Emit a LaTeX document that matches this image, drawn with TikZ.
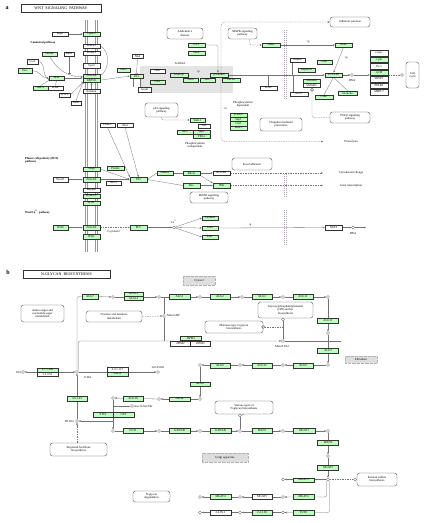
\documentclass[tikz,border=0pt]{standalone}
\usepackage{fontspec}
\setmainfont{Liberation Serif}
\usetikzlibrary{arrows.meta}
\definecolor{kg}{RGB}{191,255,191}
\definecolor{dcfill}{RGB}{228,228,228}
\definecolor{nuc}{RGB}{185,160,185}
\pgfdeclarelayer{bg}
\pgfsetlayers{bg,main}
\tikzset{
 bx/.style={draw=black!80, line width=0.3pt, inner sep=0pt, minimum height=4.3pt, minimum width=17pt, font=\fontsize{3}{3}\selectfont},
 gb/.style={bx, fill=kg},
 wb/.style={bx, fill=white},
 pw/.style={draw=black!70, line width=0.35pt, rounded corners=2.5pt, fill=white, align=center, inner sep=0.5pt, font=\fontsize{3}{3.3}\selectfont},
 cir/.style={circle, draw=black!80, line width=0.3pt, fill=white, minimum size=3pt, inner sep=0pt},
 txt/.style={inner sep=0pt, align=center, font=\fontsize{3}{3.3}\selectfont},
 hd/.style={inner sep=0pt, align=left, font=\bfseries\fontsize{3}{3.4}\selectfont},
 ln/.style={draw=black!55, line width=0.3pt},
 arr/.style={ln, -{Latex[length=2pt,width=1.8pt]}},
 tb/.style={ln, -{Bar[width=3pt]}},
 dsh/.style={ln, dash pattern=on 1.5pt off 1pt},
 mem/.style={draw=black!40, line width=0.6pt},
 nucl/.style={draw=nuc, line width=0.4pt, dash pattern=on 1pt off 1pt},
 loc/.style={fill=black!13, draw=black!30, densely dotted, line width=0.3pt, inner sep=0pt, font=\fontsize{3}{3}\selectfont},
 ttl/.style={draw=black!80, line width=0.4pt, minimum height=8pt, inner sep=0pt, font=\fontsize{4}{4}\selectfont},
 pl/.style={inner sep=0pt, font=\bfseries\fontsize{6}{6}\selectfont}
}
\begin{document}
\begin{tikzpicture}[x=1pt,y=-1pt]
\useasboundingbox (0,0) rectangle (424,523);
\begin{pgfonlayer}{bg}
\fill[white] (0,0) rectangle (424,523);
\fill[dcfill] (140,66) rectangle (233,93);
\end{pgfonlayer}

% ================= PANEL A =================
\node[pl] (la) at (7,8) {a};
\node[ttl, minimum width=80pt] (ta) at (61,8) {WNT\ \ SIGNALING\ \ PATHWAY};

\foreach \x in {85,87,95,97} \draw[mem] (\x,20) -- (\x,252);

% canonical, extracellular
\node[hd] (cant) at (43,43) {Canonical pathway};
\node[wb, minimum width=16pt] (rspo) at (60,34) {Rspo};
\node[gb] (lgr) at (91.5,34) {Lgr4/5};
\node[wb] (rnf) at (91.5,46) {RNF43};
\node[wb] (znrf) at (91.5,53) {ZNRF3};
\node[gb, minimum width=15pt] (norrin) at (49.5,54) {Norrin};
\node[wb, minimum width=10pt] (dkka) at (69,54) {DKK};
\node[wb, minimum width=11pt] (cer) at (32.5,61.5) {Cer1};
\node[gb, minimum width=14pt] (porc) at (25,70.5) {Porc};
\node[gb, minimum width=15pt] (wnt) at (56.5,78) {Wnt};
\node[gb, minimum width=15pt] (wif) at (40.5,88) {WIF-1};
\node[wb, minimum width=15pt] (sfrp) at (55.5,88) {sFRP};
\node[wb, minimum width=11pt] (sost) at (64.5,95) {SOST};
\node[wb, minimum width=10pt] (dkk) at (76,103) {DKK};
\node[wb] (gpc) at (91.5,65.5) {Gpc4};
\node[gb] (fzd) at (91.5,75.8) {Frizzled};
\node[gb] (lrp) at (91.5,80.2) {LRP5/6};
\node[wb] (krm) at (91.5,91.3) {Kremen};

% cytoplasm canonical
\node[gb, minimum width=13pt] (ck1e) at (123.5,70) {CK1ε};
\node[gb, minimum width=13pt] (dvl) at (136.5,76) {Dvl};
\node[wb, minimum width=11pt] (nkd) at (137.5,56) {Nkd};
\node[wb, minimum width=13pt] (axam) at (144.5,89.5) {Axam};
\node[txt] (scaf) at (180,63) {Scaffold};
\node[wb, minimum width=15pt] (gbp) at (157.5,71) {GBP};
\node[gb, minimum width=18pt] (gsk) at (179,75) {GSK-3β};
\node[txt] (p1) at (198,72) {+p};
\node[gb, minimum width=18pt] (bcat) at (219,75) {β-catenin};
\node[gb, minimum width=15pt] (axin) at (190.5,80) {Axin};
\node[gb, minimum width=15pt] (apc) at (207.5,80) {APC};
\node[gb, minimum width=18pt] (ck1a) at (231,80) {CK1α};
\node[gb, minimum width=15pt] (ck2) at (157.5,82) {CK2};

\node[pw, minimum width=36pt, minimum height=11pt] (alz) at (185,33.5) {Alzheimer's\\disease};
\node[gb] (ps1) at (196.5,45) {PS-1};
\node[gb] (pka) at (196.5,53) {PKA};
\node[pw, minimum width=29pt, minimum height=11pt] (mapka) at (242.5,33.5) {MAPK signaling\\pathway};
\node[gb, minimum width=18pt] (tak1) at (271,45) {TAK1};
\node[gb] (nlk) at (343.5,45) {NLK};
\node[txt] (p2) at (308,42) {+p};
\node[pw, minimum width=40pt, minimum height=10pt] (adh) at (350,22) {Adherens junction};
\node[wb] (icat) at (268.5,88) {ICAT};

% nucleus
\foreach \x in {284.3,286.3} {
 \draw[nucl] (\x,30) -- (\x,100);
 \draw[nucl] (\x,174) -- (\x,197);
 \draw[nucl] (\x,210) -- (\x,245);
}
\node[wb, minimum width=15pt] (duplin) at (297.5,60) {Duplin};
\node[gb] (reptin) at (306.5,70) {Reptin52};
\node[gb, minimum width=15pt] (cbp) at (324.5,62) {CBP};
\node[gb] (tcf) at (333.5,75) {TCF/LEF};
\node[gb] (smad4) at (311.5,81) {SMAD4};
\node[wb] (smad3) at (311.5,85.3) {SMAD3};
\node[wb, minimum width=18pt] (sox) at (299,94) {Sox17};
\node[gb, minimum width=18pt] (ctbp) at (324,97) {CtBP};
\node[gb, minimum width=19pt] (gro) at (347.5,93) {Groucho};
\node[txt] (p3) at (346,58) {+p};
\node[cir] (dnac) at (352,75) {};
\node[txt] (dnat) at (352,81) {DNA};
\node[wb, minimum width=18pt, minimum height=5.5pt] (s1) at (379,53) {c-myc};
\node[gb, minimum width=18pt, minimum height=5.5pt] (s2) at (379,59.5) {c-jun};
\node[wb, minimum width=18pt, minimum height=5.5pt] (s3) at (379,66) {fra-1};
\node[gb, minimum width=18pt, minimum height=5.5pt] (s4) at (379,72.5) {cycD};
\node[wb, minimum width=18pt, minimum height=5.5pt] (s5) at (379,79) {WISP1};
\node[wb, minimum width=18pt, minimum height=5.5pt] (s6) at (379,85.5) {PPARδ};
\node[wb, minimum width=18pt, minimum height=5.5pt] (s7) at (379,92) {MMP-7};
\node[pw, minimum width=13pt, minimum height=26pt] (cc) at (412.5,75) {Cell\\cycle};
\node[cir] (ccc) at (402,75) {};
\node[pw, minimum width=40pt, minimum height=11pt] (tgf) at (350,117.5) {TGF-β signaling\\pathway};
\node[cir] (tgfc) at (312,89.8) {};

% degradation
\node[pw, minimum width=33pt, minimum height=14pt] (p53) at (161.5,110) {p53 signaling\\pathway};
\node[gb, minimum width=15pt] (siah) at (197.5,120) {Siah-1};
\node[wb, minimum width=12pt] (sip) at (204,126) {SIP};
\node[gb, minimum width=16pt] (apc2) at (185,132) {APC};
\node[gb] (skp1b) at (201.5,132) {Skp1};
\node[gb] (tbl1) at (201.5,136.3) {TBL1};
\node[txt] (ph2) at (195,145) {Phosphorylation\\independent};
\node[txt] (ph1) at (243,104.5) {Phosphorylation\\dependent};
\node[txt] (pu) at (225,109) {+u};
\node[gb] (btrcp) at (238.5,115) {β-TrCP};
\node[gb] (skp1) at (238.5,119.3) {Skp1};
\node[gb] (cul1) at (238.5,123.6) {Cul1};
\node[gb] (rbx1) at (238.5,127.9) {Rbx1};
\node[pw, minimum width=42pt, minimum height=13pt] (ubq) at (281,124.5) {Ubiquitin mediated\\proteolysis};
\node[txt] (proteo) at (351,142) {Proteolysis};
\coordinate (pe) at (323,141.5);
\coordinate (dtop) at (221,73);
\coordinate (dbot) at (221,77);

% PCP
\node[hd, anchor=west] (pcpt) at (25,160) {Planar cell polarity (PCP)\\pathway};
\node[wb, minimum width=15pt] (par1) at (107.5,125) {PAR-1};
\node[wb, minimum width=16pt] (nkd2) at (125,125) {Nkd};
\node[gb] (vangl) at (91.5,169) {Vangl};
\node[gb] (prickle) at (115.5,168) {Prickle};
\node[wb, minimum width=15pt] (wnt11) at (60.5,179.5) {Wnt11};
\node[gb] (fzd2) at (91.5,179.5) {Frizzled};
\node[wb, minimum width=15pt] (invs) at (113.5,183) {INVS};
\node[wb] (knypek) at (91.5,190) {Knypek};
\node[gb] (ror) at (91.5,196) {ROR1/2};
\node[gb] (ryk) at (91.5,203) {RYK};
\node[gb] (dvl2) at (138.5,179.5) {Dvl};
\node[gb, minimum width=16pt] (daam) at (165,173) {Daam1};
\node[gb] (rhoa) at (191.5,173) {RhoA};
\node[wb] (rock) at (221.5,173) {ROCK2};
\node[gb] (rac) at (191.5,185.5) {Rac};
\node[gb] (jnk) at (221.5,185.5) {JNK};
\node[pw, minimum width=40pt, minimum height=12pt] (focal) at (252,164) {Focal adhesion};
\node[pw, minimum width=38pt, minimum height=11pt] (mapkb) at (209,197.5) {MAPK signaling\\pathway};
\node[txt] (cyto) at (351,173) {Cytoskeletal change};
\node[txt] (genet) at (351,186) {Gene transcription};
\coordinate (ce) at (323,173);
\coordinate (ge) at (323,185.5);

% Wnt/Ca
\node[hd, anchor=west] (cat) at (25,212) {Wnt/Ca\textsuperscript{2+} pathway};
\node[gb, minimum width=15pt] (wnt5) at (60.5,227.5) {Wnt5};
\node[gb] (fzd3) at (91.5,227.5) {Frizzled};
\node[gb] (ryk2) at (91.5,236.5) {RYK};
\node[txt] (gp) at (114,232) {G protein?};
\node[gb] (plc) at (138.5,227.5) {PLC};
\node[cir] (ca) at (174,227.5) {};
\node[txt] (cal) at (174,221.5) {Ca\textsuperscript{2+}};
\node[gb, minimum width=16pt] (camk) at (210,218) {CaMKII};
\node[gb, minimum width=16pt] (can) at (210,228) {CaN};
\node[gb, minimum width=16pt] (pkc) at (210,237) {PKC};
\node[txt] (mp) at (250,225) {-p};
\node[wb] (nfat) at (333.5,227.5) {NFAT};
\node[cir] (dna2) at (353,227.5) {};
\node[txt] (dnat2) at (353,233.5) {DNA};
\coordinate (dnaend) at (366,227.5);

\begin{pgfonlayer}{bg}
\draw[arr] (rspo) -- (lgr);
\draw[tb] (rnf.east) .. controls (110,50) and (110,70) .. (fzd.east);
\draw[arr] (porc.east) to[out=0,in=180] (wnt.west);
\draw[tb] (cer.east) to[out=0,in=160] ([yshift=-1pt]wnt.west);
\draw[arr] (norrin.south) to[out=-60,in=180] ([yshift=-1pt]fzd.west);
\draw[tb] (dkka.south) -- ++(0,17);
\draw[arr] (wnt.east) -- (fzd.west |- wnt.east);
\draw[tb] (wif.north) -- (wnt.south west);
\draw[tb] (sfrp.north) -- (wnt.south);
\draw[tb] (sost.east) -- (lrp.south west);
\draw[tb] (dkk.north) -- (lrp.south west);
\draw[arr] (krm.north) -- (lrp.south);
\draw[arr] (lrp.east) -- (dvl.west);
\draw[tb] (nkd.south) -- (dvl.north);
\draw[ln] ([xshift=-3pt]dvl.south) -- ([xshift=-3pt]dvl.south |- axam.north);
\draw[ln] ([xshift=4pt]dvl.south) -- ([xshift=4pt]dvl.south |- axam.north);
\draw[arr, rounded corners=1.5pt] (ps1.east) -| ([xshift=-1pt]bcat.north);
\draw[dsh, arr, rounded corners=2pt] ([xshift=7pt]mapka.south) |- (tak1.west);
\draw[arr] (tak1) -- (nlk);
\draw[dsh, arr, rounded corners=4pt] (dtop) |- (adh.west);
\draw[dsh, arr, rounded corners=4pt] (dbot) |- (pe);
\draw[arr] (bcat.east) -- (tcf.west);
\draw[tb] (icat.north) -- (icat.north |- bcat.east);
\draw[tb] ([xshift=-5pt]duplin.south) -- ([xshift=-5pt]duplin.south |- bcat.east);
\draw[tb] ([xshift=-6pt]sox.north) -- ([xshift=-6pt]sox.north |- bcat.east);
\draw[arr] (nlk.south) -- (tcf.north);
\draw[tb] (ctbp.north) -- (tcf.south);
\draw[tb] (gro.north) -- (tcf.south);
\draw[arr] (tcf.east) -- (dnac);
\draw[arr] (dnac) -- (dnac -| s4.west);
\draw[dsh] (dnac -| s4.east) -- (ccc);
\draw[dsh, rounded corners=2pt] (tgf.west) -| (tgfc.south);
\draw[dsh, arr, rounded corners=2pt] (p53.south) |- (siah.west);
% PCP
\draw[arr] (wnt11) -- (fzd2);
\draw[arr] (fzd2) -- (dvl2);
\draw[arr] (vangl.east) -- (dvl2.west);
\draw[arr] (par1.south) -- (dvl2.north west);
\draw[arr] (nkd2.south) -- (dvl2.north);
\draw[ln] (dvl2.east) -- (daam.west);
\draw[ln] (dvl2.east) -- (rac.west);
\draw[ln] (daam) -- (rhoa);
\draw[arr] (rhoa) -- (rock);
\draw[arr] (rac) -- (jnk);
\draw[arr] (rhoa.south east) -- (jnk.north west);
\draw[dsh, arr] (rock.east) -- (ce);
\draw[dsh, arr] (jnk.east) -- (ge);
% Ca
\draw[arr] (wnt5) -- (fzd3);
\draw[dsh, arr] (fzd3) -- (plc);
\draw[arr] (plc) -- (ca);
\draw[arr] (ca) -- (camk.west);
\draw[arr] (ca) -- (can.west);
\draw[arr] (ca) -- (pkc.west);
\draw[arr] (can.east) -- (nfat.west);
\draw[arr] (nfat) -- (dna2);
\draw[arr] (dna2) -- (dnaend);
\end{pgfonlayer}

% ================= PANEL B =================
\node[pl] (lb) at (8,272) {b};
\node[ttl, minimum width=87pt] (tb) at (66.5,274) {N-GLYCAN\ \ BIOSYNTHESIS};
\node[loc, minimum width=32pt, minimum height=9pt] (cyt) at (199,280.5) {Cytosol};
\node[loc, minimum width=32pt, minimum height=7pt] (erl) at (361,359.5) {ER lumen};
\node[loc, minimum width=46pt, minimum height=9pt] (gol) at (225,457.5) {Golgi apparatus};

\node[pw, minimum width=43pt, minimum height=17pt] (amino) at (42.5,313.5) {Amino sugar and\\nucleotide sugar\\metabolism};
\node[pw, minimum width=56pt, minimum height=11pt] (fruc) at (114,316.5) {Fructose and mannose\\metabolism};
\node[pw, minimum width=55pt, minimum height=16pt] (gpi) at (285.5,310) {Glycosylphosphatidylinositol\\(GPI)-anchor\\biosynthesis};
\node[pw, minimum width=58pt, minimum height=12pt] (mannose) at (234,327) {Mannose type O-glycan\\biosynthesis};
\node[pw, minimum width=58pt, minimum height=13pt] (various) at (244,407.5) {Various types of\\N-glycan biosynthesis};
\node[pw, minimum width=57pt, minimum height=13pt] (terp) at (78.5,449.5) {Terpenoid backbone\\biosynthesis};
\node[pw, minimum width=40pt, minimum height=13pt] (keratan) at (377,479.5) {Keratan sulfate\\biosynthesis};
\node[pw, minimum width=37pt, minimum height=11pt] (ngdeg) at (151.5,496.5) {N-glycan\\degradation};

\node[gb, minimum width=16pt] (alg7) at (90,296.5) {ALG7};
\node[cir] (c1) at (113,297) {};
\node[gb, minimum width=19pt] (alg13) at (133.5,293.8) {ALG13};
\node[gb, minimum width=19pt] (alg14) at (133.5,298.3) {ALG14};
\node[cir] (c2) at (159,297) {};
\node[gb, minimum width=21pt] (alg1) at (179.5,296.5) {ALG1};
\node[cir] (c3) at (200,297) {};
\node[gb, minimum width=20pt] (alg2a) at (220,296.5) {ALG2};
\node[cir] (c4) at (242,297) {};
\node[gb, minimum width=20pt] (alg2b) at (262,296.5) {ALG2};
\node[cir] (c5) at (283,297) {};
\node[gb, minimum width=20pt] (alg11a) at (303,296.5) {ALG11};
\node[cir] (c6) at (328,297) {};
\node[gb, minimum width=21pt] (alg11b) at (328,320.5) {ALG11};
\node[cir] (c7) at (328,333) {};
\node[gb, minimum width=21pt] (alg3) at (328,350.5) {ALG3};
\node[cir] (c8) at (328,365) {};
\node[gb, minimum width=20pt] (alg9a) at (303,365.5) {ALG9};
\node[cir] (c9) at (283,365) {};
\node[gb, minimum width=20pt] (alg12) at (262,365.5) {ALG12};
\node[cir] (c10) at (240,365) {};
\node[gb, minimum width=20pt] (alg9b) at (220,365.5) {ALG9};
\node[cir] (c11) at (200,365) {};
\node[gb, minimum width=20pt] (alg6) at (200,384) {ALG6};
\node[cir] (c12) at (200,399) {};
\node[gb, minimum width=21pt] (alg8) at (179.5,399) {ALG8};
\node[cir] (c13) at (159,399) {};
\node[gb, minimum width=20pt] (alg10) at (133,398.5) {ALG10};
\node[cir] (c14) at (113,398) {};
\node[cir] (asn) at (132,406) {};
\node[txt, anchor=west] (asnt) at (134,406) {Asn-X-Ser/Thr};
\node[gb, minimum width=20pt] (stt) at (103,414.5) {STT3};
\node[gb, minimum width=21pt] (ost) at (123.5,414.5) {OST};
\node[cir] (c15) at (113,431) {};
\node[gb, minimum width=20pt] (gcs) at (133,430.5) {GCS1};
\node[cir] (c16) at (159,431) {};
\node[gb, minimum width=21pt] (ganab1) at (179.5,430.5) {GANAB};
\node[cir] (c17) at (200,431) {};
\node[gb, minimum width=21pt] (ganab2) at (220.5,430.5) {GANAB};
\node[cir] (c18) at (240,431) {};
\node[cir] (vc) at (240,415.5) {};
\node[gb, minimum width=20pt] (man1) at (262,430.5) {MAN1};
\node[cir] (c19) at (283,431) {};
\node[gb, minimum width=22pt] (mgat1) at (304,430.5) {MGAT1};
\node[cir] (c20) at (328,431) {};
\node[gb, minimum width=21pt] (man2) at (328,442.5) {MAN2};
\node[cir] (c21) at (328,456) {};
\node[gb, minimum width=21pt] (mgat2) at (328,467.5) {MGAT2};
\node[cir] (c22) at (328,479.5) {};
\node[cir] (c23) at (355,479.5) {};
\node[gb, minimum width=21pt] (mgat3) at (303.5,480) {MGAT3};
\node[cir] (c24) at (283,479.5) {};
\node[gb, minimum width=21pt] (mgat4) at (303.5,496.5) {MGAT4};
\node[cir] (c25) at (283,497) {};
\node[gb, minimum width=21pt] (fut8) at (303.5,512.5) {FUT8};
\node[cir] (c26) at (283,512.5) {};
\node[wb, minimum width=20pt] (mgat5) at (262,496.5) {MGAT5};
\node[cir] (c27) at (240,497) {};
\node[gb, minimum width=21pt] (mgat4b) at (220.5,496.5) {MGAT4};
\node[cir] (c28) at (200,497) {};
\node[gb, minimum width=20pt] (b4g) at (262,512.5) {2.4.1.38};
\node[cir] (c29) at (240,512.5) {};
\node[wb, minimum width=21pt] (st6) at (220.5,512.5) {2.4.99.1};
\node[cir] (c30) at (200,512.5) {};

\node[cir] (dolc) at (23,372) {};
\node[txt, anchor=east] (dolt) at (21,372) {Dol};
\node[gb, minimum width=21pt] (k1) at (47.5,370) {2.7.1.108};
\node[wb, minimum width=21pt] (k2) at (47.5,374.4) {3.1.3.51};
\node[cir] (pdol) at (77,372) {};
\node[txt] (pdolt) at (88,377.5) {P-Dol};
\node[wb, minimum width=21pt] (a5a) at (117.5,369.5) {2.4.1.117};
\node[gb, minimum width=21pt] (a5b) at (117.5,373.9) {ALG5};
\node[cir] (glcp) at (158,372) {};
\node[txt] (glcpt) at (158,367) {Glc-P-Dol};
\node[gb, minimum width=20pt] (e3) at (77,398.5) {3.6.1.43};
\node[cir] (ppdol) at (77,421) {};
\node[txt, anchor=east] (ppdolt) at (74,421) {PP-Dol};
\node[cir] (mangdp) at (164,316) {};
\node[txt, anchor=west] (mangdpt) at (167,316) {Man-GDP};
\node[gb, minimum width=21pt] (dpm1) at (191,338.3) {DPM1};
\node[wb, minimum width=20pt] (dpm2) at (180.5,343.7) {DPM2};
\node[wb, minimum width=20pt] (dpm3) at (200.5,343.7) {DPM3};
\node[cir] (manpdol) at (283,341) {};
\node[txt] (manpdolt) at (282,346.5) {Man-P-Dol};
\node[cir] (gpic) at (283,319.5) {};
\node[cir] (moc) at (mannose.east) {};
\coordinate (mpe) at (341,341);

\begin{pgfonlayer}{bg}
\draw[ln, rounded corners=2pt] (pdol.north) |- (alg7.west);
\draw[arr, rounded corners=2pt] ([xshift=1.2pt]pdol.north) |- (manpdol.west);
\draw[ln] (manpdol.east) -- (mpe);
\draw[ln] (manpdol.north) -- (gpic.south);
\draw[dsh] (moc) -- (moc -| manpdol);
\draw[ln] (mangdp.north) -- (mangdp.north |- c2);
\draw[ln] (mangdp.south) -- (mangdp.south |- manpdol);
\draw[dsh, arr] (fruc.east) -- (mangdp.west);
\draw[arr] (alg7.east) -- (c1);
\draw[arr] (c1) -- (c2);
\draw[arr] (c2) -- (c3);
\draw[arr] (c3) -- (c4);
\draw[arr] (c4) -- (c5);
\draw[arr] (c5) -- (c6);
\draw[arr] (c6) -- (c7);
\draw[arr] (c7) -- (c8);
\draw[arr] (c8) -- (c9);
\draw[arr] (c9) -- (c10);
\draw[arr] (c10) -- (c11);
\draw[arr] (c11) -- (c12);
\draw[arr] (c12) -- (c13);
\draw[arr] (c13) -- (c14);
\draw[arr] (c14) -- (c15);
\draw[ln] (asn) -- (asn -| c14);
\draw[arr] (ppdol -| c14) -- (ppdol.east);
\draw[arr] (c15) -- (c16);
\draw[arr] (c16) -- (c17);
\draw[arr] (c17) -- (c18);
\draw[arr] (c18) -- (c19);
\draw[arr] (c19) -- (c20);
\draw[ln] (c18) -- (vc);
\draw[ln] (vc) -- (various.south);
\draw[arr] (c20) -- (c21);
\draw[arr] (c21) -- (c22);
\draw[dsh] (c22) -- (c23);
\draw[arr] (c22) -- (c24);
\draw[arr, rounded corners=2pt] ([xshift=-1.5pt]c22.south) |- (c25.east);
\draw[arr, rounded corners=2pt] ([xshift=1.5pt]c22.south) |- (c26.east);
\draw[arr] (c25) -- (c27);
\draw[arr] (c27) -- (c28);
\draw[arr] (c26) -- (c29);
\draw[arr] (c29) -- (c30);
\draw[{Latex[length=2pt,width=1.8pt]}-{Latex[length=2pt,width=1.8pt]}, ln] (dolc) -- (pdol);
\draw[arr] (pdol) -- (glcp);
\draw[arr] (ppdol.north) -- (pdol.south);
\draw[dsh, arr] (terp.north -| ppdol) -- (ppdol.south);
\end{pgfonlayer}
\end{tikzpicture}
\end{document}
